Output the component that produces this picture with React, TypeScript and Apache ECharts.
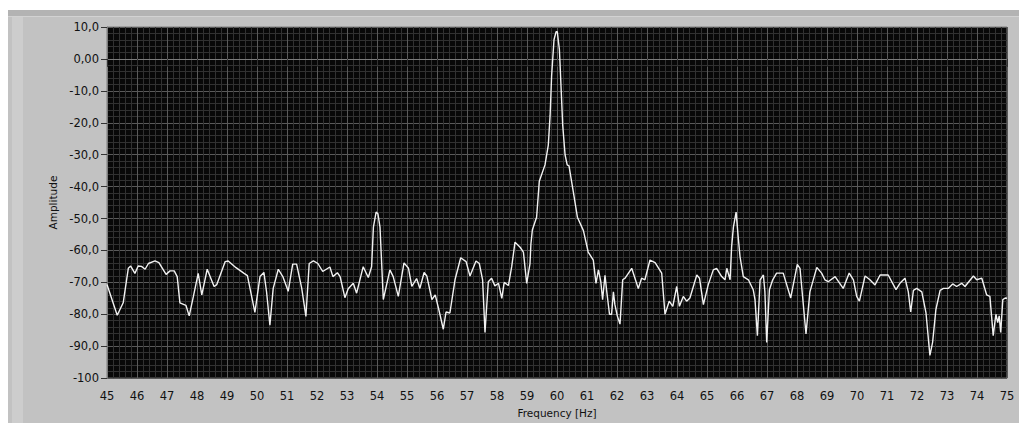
import React, { useEffect, useRef } from "react";
import * as echarts from "echarts";

// Frequency [Hz]
const freqs: number[] = [
  45.0, 45.34, 45.54, 45.71, 45.79, 45.93, 46.04, 46.15, 46.27, 46.38, 46.6, 46.73, 46.97, 47.1, 47.24, 47.34, 47.43, 47.63, 47.74, 47.88,
  48.04, 48.16, 48.34, 48.57, 48.66, 48.94, 49.04, 49.3, 49.57, 49.68, 49.93, 50.1, 50.23, 50.32, 50.43, 50.54, 50.71, 50.86, 51.04, 51.19,
  51.32, 51.49, 51.63, 51.74, 51.88, 52.03, 52.19, 52.43, 52.53, 52.68, 52.77, 52.93, 53.04, 53.21, 53.32, 53.54, 53.71, 53.82, 53.88, 53.97,
  54.03, 54.1, 54.21, 54.43, 54.54, 54.71, 54.9, 55.05, 55.16, 55.32, 55.43, 55.57, 55.66, 55.83, 55.94, 56.06, 56.21, 56.3, 56.43, 56.6,
  56.79, 56.97, 57.1, 57.3, 57.41, 57.52, 57.6, 57.71, 57.82, 57.93, 58.05, 58.16, 58.24, 58.38, 58.49, 58.6, 58.77, 58.88, 58.99, 59.1,
  59.13, 59.18, 59.32, 59.41, 59.6, 59.71, 59.77, 59.82, 59.9, 59.97, 60.01, 60.08, 60.1, 60.19, 60.27, 60.34, 60.4, 60.54, 60.68, 60.88,
  61.04, 61.21, 61.3, 61.38, 61.46, 61.52, 61.6, 61.66, 61.75, 61.82, 61.88, 61.93, 62.01, 62.1, 62.19, 62.27, 62.49, 62.71, 62.82, 62.93,
  63.1, 63.27, 63.49, 63.6, 63.74, 63.86, 63.99, 64.08, 64.21, 64.32, 64.43, 64.66, 64.75, 64.88, 65.04, 65.21, 65.32, 65.49, 65.6, 65.66,
  65.77, 65.82, 65.88, 65.97, 66.04, 66.1, 66.21, 66.38, 66.54, 66.6, 66.68, 66.77, 66.88, 66.93, 66.99, 67.08, 67.19, 67.32, 67.54, 67.79,
  68.01, 68.1, 68.3, 68.43, 68.66, 68.82, 68.93, 69.04, 69.27, 69.54, 69.74, 69.88, 69.99, 70.08, 70.27, 70.43, 70.6, 70.77, 71.04, 71.3,
  71.43, 71.6, 71.71, 71.79, 71.88, 71.99, 72.16, 72.3, 72.43, 72.52, 72.63, 72.77, 72.88, 73.04, 73.19, 73.32, 73.49, 73.6, 73.88, 73.99,
  74.16, 74.32, 74.43, 74.54, 74.63, 74.69, 74.74, 74.79, 74.86, 74.94, 75.0,
];

// Amplitude
const amps: number[] = [
  -70.7, -80.3, -76.4, -65.6, -64.9, -67.2, -64.9, -65.0, -65.9, -64.1, -63.3, -63.8, -67.5, -66.4, -66.4, -68.2, -76.4, -77.2, -80.5, -74.4,
  -67.2, -73.9, -65.9, -71.3, -70.7, -63.5, -63.3, -65.4, -67.2, -67.9, -79.4, -68.2, -66.9, -73.1, -83.4, -71.9, -65.9, -68.2, -72.8, -64.3,
  -64.3, -71.8, -80.7, -64.1, -63.3, -64.1, -66.6, -65.2, -68.2, -67.0, -68.2, -74.8, -72.0, -70.3, -73.4, -65.1, -68.5, -65.1, -52.7, -48.0,
  -48.5, -52.7, -75.4, -66.1, -68.2, -74.4, -63.9, -65.6, -71.3, -68.8, -71.9, -66.9, -68.0, -75.4, -73.9, -78.5, -84.7, -79.3, -79.6, -69.2,
  -62.3, -63.5, -68.0, -63.3, -64.1, -69.2, -85.7, -69.8, -68.7, -71.1, -70.3, -75.0, -70.0, -71.0, -65.1, -57.4, -59.0, -60.5, -70.3, -64.1,
  -58.0, -53.5, -49.6, -38.3, -33.2, -27.0, -17.7, -5.4, 6.0, 8.5, 8.5, 2.9, -1.2, -20.8, -30.1, -33.2, -33.5, -41.4, -49.6, -53.8,
  -60.5, -63.0, -70.3, -66.1, -69.8, -75.4, -67.8, -73.0, -80.0, -80.0, -73.0, -77.0, -80.5, -83.1, -69.2, -68.7, -65.6, -71.9, -68.7, -69.2,
  -63.0, -63.8, -67.1, -80.0, -75.9, -77.5, -71.3, -77.5, -74.4, -75.9, -74.9, -67.7, -68.7, -77.0, -70.8, -66.1, -65.6, -68.2, -69.2, -65.6,
  -69.2, -58.9, -52.7, -48.0, -55.8, -61.9, -68.2, -69.2, -72.3, -75.4, -86.7, -69.2, -67.7, -73.0, -88.8, -72.3, -69.2, -67.1, -67.1, -74.9,
  -64.4, -65.6, -86.2, -73.0, -65.3, -67.1, -69.2, -69.8, -68.2, -71.9, -67.1, -69.2, -74.4, -75.9, -68.0, -69.2, -70.8, -67.7, -67.7, -72.3,
  -70.3, -68.7, -73.0, -79.3, -72.5, -71.9, -73.0, -79.6, -92.9, -88.8, -78.5, -72.5, -71.9, -71.9, -70.5, -71.3, -70.3, -71.3, -68.0, -69.2,
  -68.7, -73.9, -74.4, -86.7, -80.0, -82.6, -80.5, -85.7, -75.4, -74.9, -75.0,
];

const yTickValues: number[] = [-100, -90, -80, -70, -60, -50, -40, -30, -20, -10, 0, 10];
const yTickLabels: string[] = ["-100", "-90,0", "-80,0", "-70,0", "-60,0", "-50,0", "-40,0", "-30,0", "-20,0", "-10,0", "0,00", "10,0"];

const FONT = "DejaVu Sans";

export default function App() {
  const ref = useRef<HTMLDivElement>(null);
  useEffect(() => {
    if (!ref.current) return;
    const chart = echarts.init(ref.current, undefined, { renderer: "svg" });
    const data = freqs.map((f, i) => [f, amps[i]]);
    chart.setOption({
      animation: false,
      backgroundColor: "#ffffff",
      graphic: [
        { type: "rect", z: -10, shape: { x: 8, y: 10, width: 1011, height: 413 }, style: { fill: "#c2c2c2" }, silent: true },
        { type: "rect", z: -9, shape: { x: 8, y: 10, width: 1011, height: 6 }, style: { fill: "#b3b3b3" }, silent: true },
        { type: "rect", z: -9, shape: { x: 8, y: 16, width: 1011, height: 1 }, style: { fill: "#d2d2d2" }, silent: true },
        { type: "rect", z: -9, shape: { x: 12, y: 17, width: 11, height: 406 }, style: { fill: "#cdcdcd" }, silent: true },
      ],
      grid: {
        left: 107,
        right: 12,
        top: 27,
        bottom: 40,
        show: true,
        backgroundColor: "#080808",
        borderColor: "#7c7c7c",
        borderWidth: 1,
      },
      xAxis: {
        type: "value",
        min: 45,
        max: 75,
        interval: 1,
        name: "Frequency [Hz]",
        nameLocation: "middle",
        nameGap: 28,
        nameTextStyle: { color: "#111", fontFamily: FONT, fontSize: 10.5 },
        axisLine: { show: true, lineStyle: { color: "#7c7c7c", width: 1 } },
        axisTick: { show: true, length: 8, lineStyle: { color: "#333", width: 1 } },
        axisLabel: { color: "#111", fontFamily: FONT, fontSize: 11.5, margin: 12 },
        splitLine: { show: true, lineStyle: { color: "#5a5a5a", width: 1 } },
        minorTick: { show: false, splitNumber: 5 },
        minorSplitLine: { show: true, lineStyle: { color: "#313131", width: 1 } },
      },
      yAxis: {
        type: "value",
        min: -100,
        max: 10,
        interval: 10,
        name: "Amplitude",
        nameLocation: "middle",
        nameRotate: 90,
        nameGap: 43,
        nameTextStyle: { color: "#111", fontFamily: FONT, fontSize: 10.5 },
        axisLine: { show: true, lineStyle: { color: "#7c7c7c", width: 1 } },
        axisTick: { show: true, length: 6, lineStyle: { color: "#333", width: 1 } },
        axisLabel: {
          color: "#111",
          fontFamily: FONT,
          fontSize: 11.5,
          margin: 8,
          formatter: (v: number) => {
            const i = yTickValues.indexOf(Math.round(v));
            return i >= 0 ? yTickLabels[i] : String(v);
          },
        },
        splitLine: { show: true, lineStyle: { color: "#5a5a5a", width: 1 } },
        minorTick: { show: false, splitNumber: 5 },
        minorSplitLine: { show: true, lineStyle: { color: "#313131", width: 1 } },
      },
      series: [
        {
          type: "line",
          data,
          showSymbol: false,
          symbol: "none",
          clip: true,
          lineStyle: { color: "#f2f2f2", width: 1.4 },
        },
      ],
    });
    return () => chart.dispose();
  }, []);
  return (
    <div
      ref={ref}
      style={{ position: "fixed", left: 0, top: 0, width: 1019, height: 423 }}
    />
  );
}
